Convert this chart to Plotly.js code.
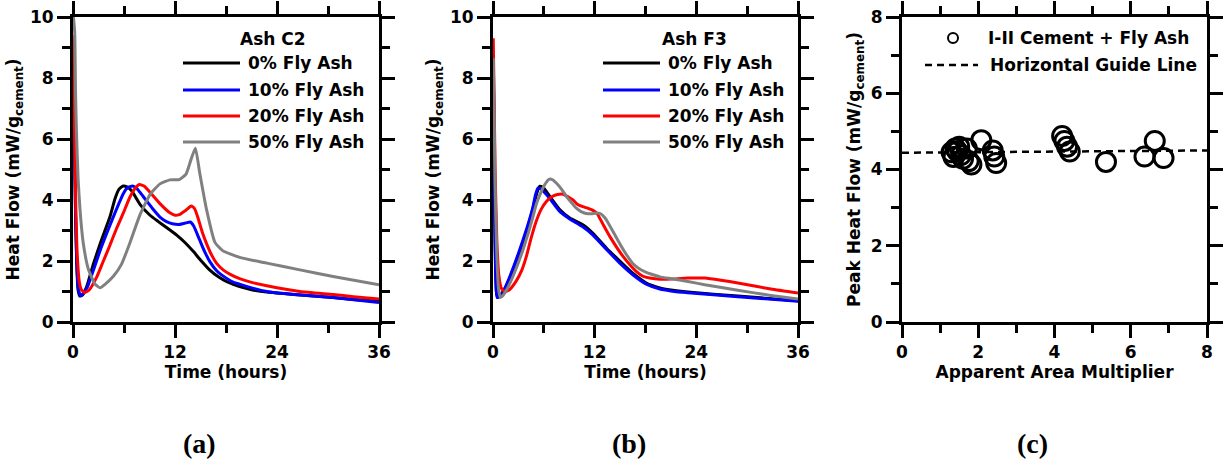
<!DOCTYPE html>
<html><head><meta charset="utf-8">
<script src="https://cdn.plot.ly/plotly-3.0.1.min.js"></script>
<style>html,body{margin:0;padding:0;background:#fff}</style>
</head><body><div id="chart" style="width:1225px;height:463px"></div>
<script>
// ---------- DATA ----------
const seriesNames = ['0% Fly Ash', '10% Fly Ash', '20% Fly Ash', '50% Fly Ash'];
const seriesColors = ['#000000', '#0000ff', '#ff0000', '#808080'];
const panelLabels = ['(a)', '(b)', '(c)'];
const legendTitleA = 'Ash C2';
const legendTitleB = 'Ash F3';

// Panel (a) Ash C2 : time (h) and heat flow (mW/g cement)
const c2_0_t = [0.03,0.15,0.3,0.45,0.6,0.8,1.1,1.6,2.4,3.3,4.35,4.95,5.4,5.9,6.4,6.9,7.9,9.06,10,11,12.2,13.2,14.2,15.1,16.1,17.1,18.1,19.6,21,22.8,26,30.6,33,36];
const c2_0_v = [9.3,6.5,3.5,1.8,1.05,0.85,0.88,1.15,1.9,2.65,3.45,4.05,4.35,4.46,4.42,4.3,3.85,3.5,3.3,3.1,2.85,2.6,2.3,2.0,1.7,1.48,1.32,1.16,1.06,0.98,0.9,0.8,0.74,0.68];
const c2_10_t = [0.03,0.15,0.3,0.45,0.65,0.9,1.2,1.7,2.4,3.2,3.96,4.6,5.33,5.9,6.4,7.0,7.5,8.3,9.5,10.3,11,11.7,12.5,13.3,13.8,14.2,14.9,15.5,16.1,16.9,17.6,18.9,19.6,21,22.8,26,30.6,36];
const c2_10_v = [9.2,6.5,3.6,1.9,1.05,0.87,0.93,1.15,1.7,2.35,2.9,3.35,3.84,4.2,4.4,4.46,4.38,4.1,3.67,3.42,3.29,3.22,3.2,3.25,3.28,3.15,2.69,2.3,1.98,1.68,1.52,1.3,1.24,1.12,1.0,0.9,0.8,0.64];
const c2_20_t = [0.03,0.15,0.3,0.5,0.75,1.0,1.4,1.9,2.8,3.5,4.35,5.1,5.9,6.7,7.3,7.8,8.4,9.0,10.2,11.4,12.0,12.5,13.3,13.9,14.3,14.7,15.2,15.7,16.3,16.9,17.7,18.5,19.6,21,22.8,26.7,30.6,33,36];
const c2_20_v = [9.4,7.0,4.2,2.2,1.3,1.05,0.97,1.05,1.48,1.95,2.52,3.05,3.56,4.1,4.38,4.51,4.45,4.27,3.89,3.58,3.5,3.52,3.67,3.8,3.72,3.42,2.95,2.58,2.2,1.92,1.7,1.56,1.42,1.3,1.19,1.0,0.9,0.83,0.75];
const c2_50_t = [0.05,0.2,0.3,0.4,0.6,0.82,1.2,1.8,2.6,3.2,3.7,4.75,5.7,6.7,7.9,9.1,10.2,11.4,12.5,13.3,13.9,14.4,14.9,15.7,16.7,17.6,19.6,22.8,26.7,30.6,36];
const c2_50_v = [10.0,9.5,7.5,6.3,4.7,3.7,2.6,1.74,1.24,1.12,1.22,1.5,1.89,2.6,3.53,4.19,4.52,4.66,4.67,4.85,5.34,5.7,4.9,3.7,2.61,2.34,2.12,1.93,1.71,1.49,1.22];

// Panel (b) Ash F3
const f3_0_t = [0.03,0.1,0.2,0.3,0.4,0.5,0.8,1.3,2.0,3.0,4.0,4.7,5.2,5.5,5.9,6.7,7.9,9.06,10.6,11.8,13.4,15.0,16.5,18.1,19.7,21,23,28.9,36];
const f3_0_v = [8.6,6.5,3.5,1.8,1.0,0.84,0.86,1.05,1.45,2.2,3.0,3.7,4.25,4.45,4.42,4.12,3.68,3.41,3.19,2.91,2.42,1.99,1.6,1.28,1.12,1.05,0.98,0.85,0.7];
const f3_10_t = [0.03,0.1,0.2,0.3,0.4,0.5,0.8,1.3,2.0,3.0,4.0,4.7,5.0,5.3,5.7,6.7,7.9,9.06,10.6,11.8,13.4,15.0,16.5,18.1,19.7,21,23,28.9,36];
const f3_10_v = [8.6,6.5,3.5,1.8,1.0,0.8,0.83,1.05,1.5,2.25,3.08,3.75,4.15,4.39,4.35,4.05,3.62,3.38,3.12,2.85,2.38,1.92,1.55,1.24,1.08,1.02,0.96,0.83,0.68];
const f3_20_t = [0.03,0.1,0.25,0.45,0.7,1.0,1.4,1.9,2.75,3.4,3.94,4.5,5.1,5.7,6.3,6.9,7.5,8.27,8.9,9.45,10.0,10.6,11.3,11.8,12.3,12.8,13.8,15.35,16.9,17.7,18.5,19.7,21,23,25,26.9,28.9,32.8,36];
const f3_20_v = [9.3,8.0,5.0,2.7,1.5,1.1,1.0,1.05,1.35,1.7,2.15,2.75,3.3,3.7,3.95,4.1,4.17,4.19,4.1,4.0,3.85,3.78,3.72,3.66,3.55,3.3,2.8,2.15,1.66,1.5,1.44,1.4,1.41,1.44,1.44,1.37,1.28,1.08,0.95];
const f3_50_t = [0.03,0.1,0.25,0.45,0.65,0.87,1.2,1.7,2.36,3.0,3.54,4.2,4.72,5.1,5.5,6.1,6.6,7.0,7.5,8.1,8.66,9.3,9.84,10.4,11.0,11.6,12.2,12.7,13.2,13.7,14.2,15.0,15.7,16.5,17.3,18.1,18.9,19.7,21,23,25,28.9,32.8,36];
const f3_50_v = [8.65,7.5,4.5,2.2,1.1,0.8,0.88,1.1,1.5,1.95,2.37,2.95,3.46,3.85,4.15,4.5,4.68,4.67,4.55,4.35,4.12,3.9,3.73,3.62,3.56,3.55,3.57,3.55,3.42,3.2,2.95,2.55,2.23,1.92,1.74,1.63,1.55,1.48,1.42,1.33,1.22,1.04,0.87,0.75];

// Panel (c) peak heat flow vs apparent area multiplier
const areaMult = [1.3,1.35,1.4,1.45,1.5,1.55,1.6,1.7,1.75,1.82,2.08,2.38,2.42,2.47,4.2,4.26,4.33,4.4,5.35,6.36,6.63,6.86];
const peakHeat = [4.45,4.33,4.55,4.48,4.6,4.38,4.28,4.55,4.22,4.13,4.77,4.5,4.34,4.17,4.88,4.75,4.6,4.47,4.2,4.34,4.75,4.3];
const guideX = [0, 8];
const guideY = [4.44, 4.5];
const scatterNames = ['I-II Cement + Fly Ash', 'Horizontal Guide Line'];

// ---------- LAYOUT ----------
const W = 1225, H = 463;
const fx = x => x / W, fy = y => 1 - y / H;
const FONT = 'DejaVu Sans';
const tickFont = {family: FONT, size: 17, color: '#000', weight: 'bold'};
const titleFont = {family: FONT, size: 17, color: '#000', weight: 'bold'};
const yDom = [fy(322), fy(17)];

function xAxis(dom, range, dtick, mdtick, title, anchor) {
  return {domain: dom, range: range, dtick: dtick, tick0: 0, anchor: anchor,
    showline: true, linewidth: 3, linecolor: '#000', mirror: 'allticks',
    ticks: 'outside', ticklen: 13, tickwidth: 3, tickcolor: '#000',
    minor: {ticks: 'outside', ticklen: 8, tickwidth: 3, tickcolor: '#000', dtick: mdtick, tick0: 0},
    showgrid: false, zeroline: false, tickfont: tickFont,
    title: {text: title, font: titleFont, standoff: 1}};
}
function yAxis(range, dtick, mdtick, title, anchor) {
  return {domain: yDom, range: range, dtick: dtick, tick0: 0, anchor: anchor,
    showline: true, linewidth: 3, linecolor: '#000', mirror: 'allticks',
    ticks: 'outside', ticklen: 13, tickwidth: 3, tickcolor: '#000',
    minor: {ticks: 'outside', ticklen: 8, tickwidth: 3, tickcolor: '#000', dtick: mdtick, tick0: 0},
    showgrid: false, zeroline: false, tickfont: tickFont,
    title: {text: title, font: titleFont, standoff: 6}};
}

const heatTitle = 'Heat Flow (mW/g<sub>cement</sub>)';
const layout = {
  width: W, height: H, margin: {l: 0, r: 0, t: 0, b: 0},
  paper_bgcolor: '#fff', plot_bgcolor: '#fff', showlegend: false,
  xaxis: xAxis([fx(73), fx(379)], [0, 36], 12, 6, 'Time (hours)', 'y'),
  yaxis: yAxis([0, 10], 2, 1, heatTitle, 'x'),
  xaxis2: xAxis([fx(493), fx(798)], [0, 36], 12, 6, 'Time (hours)', 'y2'),
  yaxis2: yAxis([0, 10], 2, 1, heatTitle, 'x2'),
  xaxis3: xAxis([fx(902), fx(1207)], [0, 8], 2, 1, 'Apparent Area Multiplier', 'y3'),
  yaxis3: yAxis([0, 8], 2, 1, 'Peak Heat Flow (mW/g<sub>cement</sub>)', 'x3'),
  shapes: [], annotations: []
};

// ---------- TRACES ----------
const traces = [];
const aT = [c2_0_t, c2_10_t, c2_20_t, c2_50_t], aV = [c2_0_v, c2_10_v, c2_20_v, c2_50_v];
const bT = [f3_0_t, f3_10_t, f3_20_t, f3_50_t], bV = [f3_0_v, f3_10_v, f3_20_v, f3_50_v];
for (let i = 0; i < 4; i++) {
  traces.push({x: aT[i], y: aV[i], xaxis: 'x', yaxis: 'y', mode: 'lines', name: seriesNames[i],
    line: {color: seriesColors[i], width: 3, shape: 'spline', smoothing: 0.5}});
}
for (let i = 0; i < 4; i++) {
  traces.push({x: bT[i], y: bV[i], xaxis: 'x2', yaxis: 'y2', mode: 'lines', name: seriesNames[i],
    line: {color: seriesColors[i], width: 3, shape: 'spline', smoothing: 0.5}});
}
traces.push({x: guideX, y: guideY, xaxis: 'x3', yaxis: 'y3', mode: 'lines', name: scatterNames[1],
  line: {color: '#000', width: 2.5, dash: '7px,5px'}});
traces.push({x: areaMult, y: peakHeat, xaxis: 'x3', yaxis: 'y3', mode: 'markers', name: scatterNames[0],
  marker: {symbol: 'circle-open', size: 19, color: '#000', line: {width: 3, color: '#000'}}});

// ---------- MANUAL LEGENDS ----------
const legFont = {family: FONT, size: 17, color: '#000', weight: 'bold'};
function addLegend(title, titleX, lineX0, lineX1, textX) {
  layout.annotations.push({xref: 'paper', yref: 'paper', x: fx(titleX), y: fy(39), xanchor: 'left', yanchor: 'middle',
    text: title, showarrow: false, font: legFont});
  const ys = [63, 90, 116, 142];
  for (let i = 0; i < 4; i++) {
    layout.shapes.push({type: 'line', xref: 'paper', yref: 'paper', x0: fx(lineX0), x1: fx(lineX1), y0: fy(ys[i]), y1: fy(ys[i]),
      line: {color: seriesColors[i], width: 3}});
    layout.annotations.push({xref: 'paper', yref: 'paper', x: fx(textX), y: fy(ys[i]), xanchor: 'left', yanchor: 'middle',
      text: seriesNames[i], showarrow: false, font: legFont});
  }
}
addLegend(legendTitleA, 238, 183, 240, 246);
addLegend(legendTitleB, 660, 603, 660, 666);

// legend (c)
layout.shapes.push({type: 'circle', xref: 'paper', yref: 'paper', xsizemode: 'pixel', ysizemode: 'pixel',
  xanchor: fx(953), yanchor: fy(38), x0: -5, x1: 5, y0: -5, y1: 5, line: {color: '#000', width: 2}});
layout.annotations.push({xref: 'paper', yref: 'paper', x: fx(986), y: fy(38), xanchor: 'left', yanchor: 'middle',
  text: scatterNames[0], showarrow: false, font: legFont});
layout.shapes.push({type: 'line', xref: 'paper', yref: 'paper', x0: fx(925), x1: fx(978), y0: fy(65), y1: fy(65),
  line: {color: '#000', width: 2.5, dash: '7px,5px'}});
layout.annotations.push({xref: 'paper', yref: 'paper', x: fx(988), y: fy(65), xanchor: 'left', yanchor: 'middle',
  text: scatterNames[1], showarrow: false, font: legFont});

// panel labels
const labelX = [199, 629, 1032];
for (let i = 0; i < 3; i++) {
  layout.annotations.push({xref: 'paper', yref: 'paper', x: fx(labelX[i]), y: fy(443), xanchor: 'center', yanchor: 'middle',
    text: panelLabels[i], showarrow: false, font: {family: 'Liberation Serif', size: 28, color: '#000', weight: 'bold'}});
}

Plotly.newPlot('chart', traces, layout, {staticPlot: true, displayModeBar: false});
</script></body></html>
